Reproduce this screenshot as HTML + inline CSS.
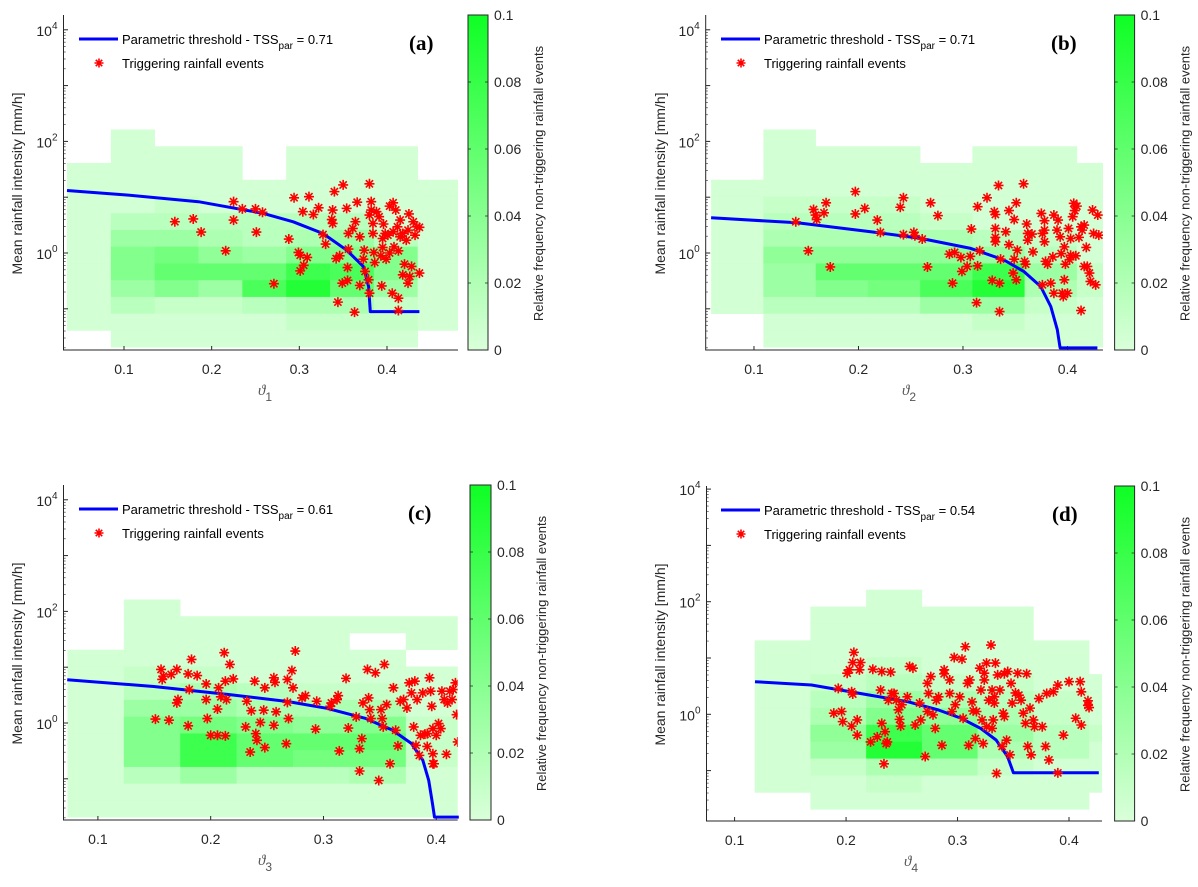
<!DOCTYPE html>
<html><head><meta charset="utf-8"><style>
html,body{margin:0;padding:0;background:#fff;}
svg{display:block;font-family:"Liberation Sans",Arial,sans-serif;}
</style></head><body>
<svg id="fig" width="1198" height="887" viewBox="0 0 1198 887" xmlns="http://www.w3.org/2000/svg"></svg>
<script>
// ---------- shared data ----------
const logIntensityBinEdges = [2.213,1.913,1.613,1.313,1.013,0.713,0.413,0.113,-0.187,-0.487,-0.787,-1.087,-1.387,-1.687];
const colorbarTicks = [0,0.02,0.04,0.06,0.08,0.1];
const colorbarTickLabels = ["0","0.02","0.04","0.06","0.08","0.1"];
const xTicks = [0.1,0.2,0.3,0.4];
const xTickLabels = ["0.1","0.2","0.3","0.4"];
const yMajorExponents = [-1,0,1,2,3,4];
const yLabelExponents = [0,2,4];
const tssValues = ["0.71","0.71","0.61","0.54"];
const panelLetters = ["(a)","(b)","(c)","(d)"];

// ---------- panel (a) ----------
const thetaBinEdgesA = [0.035,0.085,0.135,0.185,0.235,0.285,0.335,0.385,0.435,0.485];
const freqA = [
[0,.004,0,0,0,0,0,0,0],
[0,.004,.004,.004,0,.004,.004,.004,0],
[.004,.004,.004,.004,0,.004,.004,.004,0],
[.004,.004,.004,.004,.004,.004,.004,.004,.004],
[.004,.004,.01,.004,.004,.004,.004,.004,.004],
[.004,.016,.016,.016,.016,.016,.016,.004,.004],
[.004,.03,.03,.022,.016,.022,.03,.016,.004],
[.004,.043,.05,.036,.03,.043,.043,.043,.004],
[.004,.043,.058,.058,.058,.077,.07,.043,.004],
[.004,.03,.043,.03,.07,.09,.058,.03,.004],
[.004,.016,.01,.01,.016,.022,.022,.01,.004],
[.004,.004,.004,.004,.004,.01,.01,.01,.004],
[0,.004,.004,.004,.004,.004,.004,.004,0]];
const curveThetaA = [0.035,0.103,0.185,0.259,0.293,0.327,0.354,0.373,0.379,0.381,0.437];
const curveLogIA = [1.12,1.04,0.92,0.71,0.56,0.35,0.05,-0.24,-0.60,-1.05,-1.05];
const thetaA = [0.158,0.179,0.188,0.216,0.225,0.225,0.235,0.250,0.251,0.258,0.271,0.288,0.294,0.299,0.301,0.304,0.305,0.309,0.311,0.301,0.316,0.322,0.330,0.327,0.338,0.340,0.338,0.337,0.342,0.344,0.346,0.350,0.349,0.354,0.355,0.356,0.355,0.356,0.363,0.361,0.364,0.366,0.369,0.369,0.374,0.373,0.375,0.380,0.382,0.380,0.382,0.384,0.384,0.385,0.379,0.380,0.386,0.388,0.391,0.393,0.394,0.395,0.396,0.398,0.399,0.401,0.403,0.406,0.407,0.410,0.408,0.412,0.413,0.413,0.415,0.415,0.418,0.420,0.422,0.424,0.425,0.426,0.428,0.430,0.432,0.434,0.437,0.437,0.424,0.418,0.413,0.407,0.403,0.395];
const logIntensityA = [0.56,0.61,0.375,0.04,0.92,0.59,0.79,0.79,0.375,0.73,-0.55,0.25,0.99,0.01,-0.04,0.74,-0.22,-0.08,1.01,-0.32,0.69,0.81,0.16,0.33,0.77,1.10,0.53,0.60,-0.10,-0.88,-0.05,1.22,-0.54,0.80,-0.26,0.07,-0.49,0.35,-1.06,0.44,0.56,0.91,0.29,-0.58,0.05,-0.11,-0.33,1.24,0.92,0.68,0.77,0.53,0.35,0.01,-0.48,-0.72,-0.17,0.74,0.65,-0.05,-0.59,0.10,0.52,0.35,-0.11,0.32,0.84,-0.72,0.90,0.77,0.11,0.47,-0.81,-1.03,0.59,0.29,0.35,-0.20,0.23,0.41,0.70,-0.42,-0.24,0.56,0.32,0.47,-0.36,0.46,-0.54,-0.39,0.04,0.38,0.00,0.26];

// ---------- panel (b) ----------
const thetaBinEdgesB = [0.059,0.109,0.159,0.209,0.259,0.309,0.359,0.409,0.459];
const freqB = [
[0,.004,0,0,0,0,0,0],
[0,.004,.004,.004,0,.004,.004,0],
[0,.004,.004,.004,.004,.004,.004,.004],
[.004,.004,.004,.004,.004,.004,.004,.004],
[.004,.01,.01,.01,.004,.004,.004,.004],
[.004,.016,.016,.016,.01,.004,.004,.004],
[.004,.022,.022,.022,.022,.016,.01,.004],
[.004,.036,.036,.036,.036,.03,.016,.004],
[.004,.03,.058,.058,.058,.077,.03,.01],
[.004,.03,.043,.05,.07,.09,.022,.01],
[.004,.016,.016,.016,.03,.03,.01,.004],
[0,.004,.004,.004,.004,.01,.004,.004],
[0,.004,.004,.004,.004,.004,.004,.004]];
const curveThetaB = [0.059,0.1415,0.2117,0.2595,0.3074,0.3393,0.3584,0.3744,0.384,0.3903,0.3929,0.4286];
const curveLogIB = [0.631,0.542,0.381,0.262,0.083,-0.125,-0.333,-0.6,-0.958,-1.375,-1.70,-1.70];
const thetaB = [0.140,0.152,0.157,0.159,0.160,0.167,0.169,0.173,0.197,0.197,0.206,0.218,0.221,0.240,0.243,0.243,0.253,0.254,0.261,0.266,0.269,0.276,0.287,0.290,0.292,0.298,0.299,0.304,0.307,0.308,0.313,0.314,0.314,0.316,0.323,0.328,0.330,0.331,0.331,0.331,0.331,0.334,0.335,0.335,0.336,0.341,0.344,0.344,0.348,0.349,0.351,0.351,0.352,0.349,0.358,0.359,0.360,0.361,0.362,0.362,0.366,0.367,0.375,0.376,0.376,0.378,0.378,0.378,0.379,0.381,0.384,0.387,0.387,0.386,0.391,0.393,0.394,0.395,0.396,0.397,0.398,0.400,0.401,0.402,0.403,0.405,0.406,0.407,0.408,0.409,0.411,0.413,0.414,0.416,0.418,0.419,0.421,0.422,0.424,0.425,0.427,0.429,0.430,0.413,0.403,0.397,0.390,0.416];
const logIntensityB = [0.56,0.04,0.78,0.68,0.60,0.72,0.90,-0.25,1.10,0.70,0.80,0.59,0.37,0.82,0.99,0.33,0.37,0.31,0.25,-0.25,0.90,0.67,-0.02,-0.54,0.01,-0.08,-0.33,-0.24,-0.06,0.43,-0.89,-0.23,0.83,0.04,0.99,-0.49,0.74,0.69,0.44,0.28,0.20,1.21,-0.54,-1.05,-0.11,0.38,0.76,0.15,-0.36,-0.11,-0.48,0.90,0.05,0.60,1.24,-0.15,-0.20,0.52,0.35,0.23,0.34,0.02,0.71,-0.57,0.35,0.58,0.41,0.20,-0.15,-0.20,-0.54,-0.72,0.68,-0.07,0.59,0.29,-0.01,-0.72,-0.78,-0.48,-0.20,-0.72,0.44,-0.12,-0.04,0.65,0.89,0.76,-0.05,0.84,0.28,0.47,0.41,0.50,0.10,-0.24,-0.36,-0.51,0.77,0.35,-0.57,0.68,0.32,-1.03,0.26,0.11,0.41,-0.24];

// ---------- panel (c) ----------
const thetaBinEdgesC = [0.073,0.123,0.173,0.223,0.273,0.323,0.373,0.423];
const freqC = [
[0,.004,0,0,0,0,0],
[0,.004,.004,.004,.004,.004,.004],
[0,.004,.004,.004,.004,0,.004],
[.004,.004,.004,.004,.004,.004,0],
[.004,.01,.01,.004,.004,.004,.004],
[.004,.016,.022,.016,.01,.01,.004],
[.004,.03,.03,.022,.022,.022,.004],
[.004,.043,.05,.043,.036,.043,.01],
[.004,.043,.077,.058,.058,.058,.01],
[.004,.043,.077,.058,.05,.05,.01],
[.004,.016,.03,.016,.016,.022,.004],
[.004,.004,.004,.004,.004,.004,.004],
[.004,.004,.004,.004,.004,.004,.004]];
const curveThetaC = [0.0728,0.1495,0.2177,0.2689,0.3029,0.337,0.3609,0.3779,0.3881,0.3933,0.3967,0.3984,0.42];
const curveLogIC = [0.775,0.655,0.505,0.384,0.264,0.084,-0.126,-0.366,-0.667,-1.027,-1.447,-1.686,-1.686];
const thetaC = [0.151,0.163,0.156,0.158,0.157,0.165,0.170,0.171,0.170,0.180,0.181,0.183,0.180,0.188,0.196,0.196,0.197,0.200,0.206,0.206,0.207,0.209,0.212,0.213,0.214,0.213,0.217,0.220,0.231,0.232,0.235,0.236,0.239,0.240,0.241,0.244,0.247,0.248,0.248,0.256,0.256,0.257,0.258,0.267,0.268,0.269,0.268,0.272,0.273,0.275,0.281,0.284,0.293,0.294,0.306,0.307,0.312,0.313,0.314,0.320,0.322,0.329,0.332,0.332,0.334,0.335,0.339,0.340,0.341,0.342,0.346,0.349,0.351,0.352,0.353,0.354,0.356,0.359,0.362,0.364,0.366,0.368,0.371,0.374,0.376,0.378,0.380,0.381,0.382,0.383,0.385,0.386,0.388,0.390,0.392,0.394,0.395,0.396,0.397,0.397,0.398,0.400,0.402,0.404,0.405,0.407,0.409,0.410,0.412,0.414,0.415,0.417,0.418,0.419,0.392,0.397];
const logIntensityC = [0.07,0.05,0.96,0.84,0.78,0.87,0.96,0.42,0.36,-0.05,0.60,1.14,0.88,0.85,0.70,0.42,0.08,-0.22,-0.22,0.25,0.63,0.47,1.26,0.75,0.42,-0.23,1.05,0.79,-0.07,0.39,-0.52,0.22,0.75,-0.19,-0.31,0.01,0.23,0.63,-0.44,-0.04,0.81,0.73,0.20,-0.37,0.78,0.08,0.37,0.94,0.63,1.29,0.45,0.49,-0.11,0.39,0.30,0.36,0.42,0.49,-0.50,0.80,-0.09,0.11,-0.46,-0.86,-0.28,0.36,0.96,0.45,0.24,0.08,0.90,-1.03,0.24,0.08,-0.07,1.05,0.33,-0.73,0.63,-0.13,-0.41,0.39,0.42,0.27,0.72,0.54,-0.07,0.75,-0.40,0.42,-0.58,-0.22,0.54,-0.20,-0.19,0.81,0.57,0.30,-0.10,-0.55,-0.73,-0.22,-0.01,-0.10,0.57,0.42,-0.56,0.36,0.57,0.42,0.60,0.72,0.15,-0.34,-0.42,-0.73];

// ---------- panel (d) ----------
const thetaBinEdgesD = [0.118,0.168,0.218,0.268,0.318,0.368,0.418,0.468];
const freqD = [
[0,0,.004,0,0,0,0],
[0,.004,.004,.004,.004,0,0],
[0,.004,.004,.004,.004,0,0],
[.004,.004,.004,.004,.004,.004,0],
[.004,.004,.01,.004,.004,.004,0],
[.004,.01,.016,.01,.01,.004,.004],
[.004,.016,.03,.022,.016,.01,.004],
[.004,.022,.043,.036,.022,.01,.004],
[.004,.036,.077,.058,.03,.016,.01],
[.004,.03,.09,.058,.022,.016,.004],
[.004,.01,.022,.022,.01,.004,.004],
[.004,.004,.01,.004,.004,.004,.004],
[0,.004,.004,.004,.004,.004,0]];
const curveThetaD = [0.1183,0.169,0.2207,0.2553,0.2829,0.3035,0.3208,0.3346,0.3449,0.3501,0.4267];
const curveLogID = [0.579,0.52,0.343,0.224,0.076,-0.072,-0.25,-0.457,-0.753,-1.037,-1.037];
const thetaD = [0.189,0.196,0.193,0.197,0.201,0.203,0.205,0.206,0.205,0.207,0.206,0.210,0.210,0.212,0.213,0.224,0.222,0.228,0.231,0.232,0.232,0.234,0.235,0.236,0.237,0.238,0.240,0.241,0.243,0.245,0.247,0.248,0.249,0.250,0.255,0.257,0.260,0.262,0.266,0.267,0.271,0.273,0.273,0.276,0.274,0.278,0.280,0.281,0.283,0.286,0.288,0.288,0.293,0.293,0.295,0.297,0.298,0.302,0.304,0.305,0.307,0.309,0.310,0.311,0.313,0.314,0.316,0.317,0.320,0.321,0.322,0.323,0.324,0.324,0.326,0.326,0.328,0.330,0.331,0.331,0.332,0.333,0.333,0.334,0.335,0.336,0.338,0.340,0.341,0.342,0.342,0.344,0.345,0.347,0.348,0.349,0.352,0.354,0.355,0.357,0.359,0.361,0.362,0.363,0.365,0.366,0.368,0.369,0.373,0.376,0.379,0.380,0.382,0.386,0.390,0.390,0.395,0.400,0.406,0.410,0.411,0.411,0.417,0.417,0.418];
const logIntensityD = [0.02,0.05,0.46,-0.13,0.73,0.79,0.40,0.36,-0.21,1.10,0.92,-0.10,-0.37,0.79,0.92,0.80,-0.49,-0.40,0.43,0.76,-0.16,-0.88,-0.31,-0.52,-0.49,0.25,0.75,0.37,0.37,0.25,0.08,-0.09,-0.21,0.17,0.31,0.85,0.82,-0.19,0.20,-0.10,-0.75,0.05,0.55,0.67,0.37,-0.01,-0.25,0.25,0.31,-0.55,0.79,0.72,0.37,0.61,0.05,1.01,0.17,0.31,0.98,-0.07,1.20,0.55,-0.55,0.61,0.22,0.06,-0.43,0.05,0.82,0.43,-0.10,-0.52,0.61,0.73,-0.22,0.91,0.25,1.23,0.43,-0.25,-0.10,0.31,0.20,0.91,-1.05,0.70,0.43,-0.57,0.02,0.72,-0.04,-0.46,0.76,-0.72,0.55,0.20,0.38,0.73,0.34,0.25,0.02,-0.16,0.72,-0.57,0.11,-0.72,-0.10,-0.22,0.28,-0.22,-0.57,0.37,-0.81,0.40,0.52,-1.04,-0.37,0.58,-0.07,0.58,0.40,-0.19,0.24,0.16,0.12];

// ---------- layout (pixels, not data) ----------
const layout = [
 {x0:63.5,x1:458,y0:15,y1:350,xmin:0.031,xmax:0.481,lmin:-1.738,lmax:4.265,cb:[468,488],lx:79,lblx:409,ylab:17,xlabx:258},
 {x0:705.7,x1:1103,y0:15,y1:350,xmin:0.0538,xmax:0.434,lmin:-1.738,lmax:4.265,cb:[1114.6,1134.6],lx:721,lblx:1051,ylab:660,xlabx:902},
 {x0:63.5,x1:457.7,y0:485,y1:820,xmin:0.0695,xmax:0.419,lmin:-1.738,lmax:4.265,cb:[470,491],lx:79,lblx:408,ylab:17,xlabx:258},
 {x0:706.5,x1:1102,y0:486,y1:821,xmin:0.0748,xmax:0.4296,lmin:-1.895,lmax:4.055,cb:[1114.6,1134.6],lx:721,lblx:1052,ylab:660,xlabx:904}
];
const panelData = [
 {edges:thetaBinEdgesA,freq:freqA,ct:curveThetaA,cl:curveLogIA,pt:thetaA,pl:logIntensityA},
 {edges:thetaBinEdgesB,freq:freqB,ct:curveThetaB,cl:curveLogIB,pt:thetaB,pl:logIntensityB},
 {edges:thetaBinEdgesC,freq:freqC,ct:curveThetaC,cl:curveLogIC,pt:thetaC,pl:logIntensityC},
 {edges:thetaBinEdgesD,freq:freqD,ct:curveThetaD,cl:curveLogID,pt:thetaD,pl:logIntensityD}
];

const NS = "http://www.w3.org/2000/svg";
const svg = document.getElementById('fig');
function mk(tag, attrs, parent){
  const e = document.createElementNS(NS, tag);
  for (const k in attrs) e.setAttribute(k, attrs[k]);
  (parent||svg).appendChild(e);
  return e;
}
function cmap(v){
  const t = Math.max(0, Math.min(1, v/0.1));
  const r = Math.round(218 + (14-218)*t), g = 255, b = Math.round(218 + (36-218)*t);
  return `rgb(${r},${g},${b})`;
}
const AX = "#262626";

const defs = mk('defs', {});
const grad = mk('linearGradient', {id:'cbgrad', x1:'0', y1:'1', x2:'0', y2:'0'}, defs);
mk('stop', {offset:'0', 'stop-color':cmap(0)}, grad);
mk('stop', {offset:'1', 'stop-color':cmap(0.1)}, grad);

function star(g, cx, cy, r){
  const d = `M${cx-r},${cy}L${cx+r},${cy}M${cx},${cy-r}L${cx},${cy+r}` +
    `M${cx-r*0.72},${cy-r*0.72}L${cx+r*0.72},${cy+r*0.72}M${cx-r*0.72},${cy+r*0.72}L${cx+r*0.72},${cy-r*0.72}`;
  const p = mk('path', {d:d, stroke:'#ff0000', 'stroke-width':'1.6', fill:'none'}, g);
  
  
  return p;
}

layout.forEach((L, pi) => {
  const D = panelData[pi];
  const sx = v => L.x0 + (v - L.xmin) / (L.xmax - L.xmin) * (L.x1 - L.x0);
  const sy = l => L.y1 - (l - L.lmin) / (L.lmax - L.lmin) * (L.y1 - L.y0);
  const g = mk('g', {});
  
  

  const cp = mk('clipPath', {id:'clip'+pi}, defs);
  mk('rect', {x:L.x0, y:L.y0, width:L.x1-L.x0, height:L.y1-L.y0}, cp);

  const hm = mk('g', {'clip-path':`url(#clip${pi})`}, g);
  
  
  D.freq.forEach((row, ri) => {
    row.forEach((v, ci) => {
      if (!v) return;
      const xa = sx(D.edges[ci]), xb = sx(D.edges[ci+1]);
      const ya = sy(logIntensityBinEdges[ri]), yb = sy(logIntensityBinEdges[ri+1]);
      const r = mk('rect', {x:xa, y:ya, width:xb-xa+0.3, height:yb-ya+0.3, fill:cmap(v)}, hm);
      
      
    });
  });

  const ax = mk('g', {stroke:AX, 'stroke-width':'1', fill:'none'}, g);
  
  
  mk('path', {d:`M${L.x0},${L.y0}L${L.x0},${L.y1}L${L.x1},${L.y1}`}, ax);
  xTicks.forEach((t, i) => {
    const x = sx(t);
    mk('path', {d:`M${x},${L.y1}L${x},${L.y1-4}`}, ax);
    const tx = mk('text', {x:x, y:L.y1+24, 'text-anchor':'middle', 'font-size':'14', fill:AX, stroke:'none'}, g);
    tx.textContent = xTickLabels[i];
    
    
  });
  for (let e = Math.floor(L.lmin); e <= Math.ceil(L.lmax); e++) {
    for (let m = 2; m <= 9; m++) {
      const l = e + Math.log10(m);
      if (l < L.lmin || l > L.lmax) continue;
      const y = sy(l);
      mk('path', {d:`M${L.x0},${y}L${L.x0+2.2},${y}`, 'stroke-width':'0.6'}, ax);
    }
  }
  yMajorExponents.forEach(e => {
    if (e < L.lmin || e > L.lmax) return;
    const y = sy(e);
    mk('path', {d:`M${L.x0},${y}L${L.x0+4.5},${y}`}, ax);
  });
  yLabelExponents.forEach(e => {
    const y = sy(e);
    const t = mk('text', {x:L.x0-6, y:y+6, 'text-anchor':'end', 'font-size':'14', fill:AX}, g);
    
    
    const a = mk('tspan', {}, t); a.textContent = '10';
    const b = mk('tspan', {dy:'-7', 'font-size':'10'}, t); b.textContent = String(e);
  });

  let d = '';
  D.ct.forEach((t, i) => { d += (i ? 'L' : 'M') + sx(t).toFixed(1) + ',' + sy(D.cl[i]).toFixed(1); });
  const cv = mk('path', {d:d, stroke:'#0000ff', 'stroke-width':'3', fill:'none', 'stroke-linejoin':'round'}, g);
  
  

  const pg = mk('g', {'clip-path':`url(#clip${pi})`}, g);
  
  
  D.pt.forEach((t, i) => star(pg, sx(t), sy(D.pl[i]), 5));

  const ly1 = L.y0 + 24, ly2 = L.y0 + 49;
  const lg = mk('g', {}, g);
  
  
  mk('path', {d:`M${L.lx},${ly1}L${L.lx+39},${ly1}`, stroke:'#0000ff', 'stroke-width':'3'}, lg);
  star(lg, L.lx+20, ly2-1, 4.5);
  const t1 = mk('text', {x:L.lx+43, y:ly1+5, 'font-size':'13', fill:'#000'}, lg);
  
  
  let s = mk('tspan', {}, t1); s.textContent = 'Parametric threshold - TSS';
  s = mk('tspan', {dy:'5', 'font-size':'10'}, t1); s.textContent = 'par';
  s = mk('tspan', {dy:'-5'}, t1); s.textContent = ' = ' + tssValues[pi];
  const t2 = mk('text', {x:L.lx+43, y:ly2+4, 'font-size':'13', fill:'#000'}, lg);
  t2.textContent = 'Triggering rainfall events';
  
  

  const pl = mk('text', {x:L.lblx, y:L.y0+35, 'font-size':'21', 'font-weight':'bold', 'font-family':'"Liberation Serif","Times New Roman",serif', fill:'#000'}, g);
  pl.textContent = panelLetters[pi];
  
  

  const yc = (L.y0 + L.y1) / 2 + 1;
  const yt = mk('text', {x:L.ylab, y:yc, 'font-size':'14', 'text-anchor':'middle', fill:AX, transform:`rotate(-90 ${L.ylab} ${yc}) translate(0 5)`}, g);
  yt.textContent = 'Mean rainfall intensity [mm/h]';
  
  

  const xt = mk('text', {x:L.xlabx, y:L.y1+45, 'font-size':'15', 'font-style':'italic', 'font-family':'"Liberation Serif","DejaVu Serif",serif', fill:'#555'}, g);
  
  
  let q = mk('tspan', {}, xt); q.textContent = 'ϑ';
  q = mk('tspan', {dy:'6', 'font-size':'12', 'font-style':'normal', 'font-family':'"Liberation Sans",sans-serif'}, xt); q.textContent = String(pi+1);

  const cbg = mk('g', {}, g);
  
  
  const cx0 = L.cb[0], cx1 = L.cb[1];
  mk('rect', {x:cx0, y:L.y0, width:cx1-cx0, height:L.y1-L.y0, fill:'url(#cbgrad)', stroke:AX, 'stroke-width':'1'}, cbg);
  colorbarTicks.forEach((v, i) => {
    const y = L.y1 - v / 0.1 * (L.y1 - L.y0);
    mk('path', {d:`M${cx1},${y}L${cx1-3},${y}M${cx0},${y}L${cx0+3},${y}`, stroke:AX, 'stroke-width':'0.8'}, cbg);
    const tt = mk('text', {x:cx1+6, y:y+5, 'font-size':'14', fill:AX}, cbg);
    tt.textContent = colorbarTickLabels[i];
    
    
  });
  const clx = cx1 + 50, cly = (L.y0 + L.y1) / 2 + 1;
  const ct = mk('text', {x:clx, y:cly, 'font-size':'13', 'text-anchor':'middle', fill:AX, transform:`rotate(-90 ${clx} ${cly}) translate(0 5)`}, cbg);
  ct.textContent = 'Relative frequency non-triggering rainfall events';
  
  
});
</script>
</body></html>
